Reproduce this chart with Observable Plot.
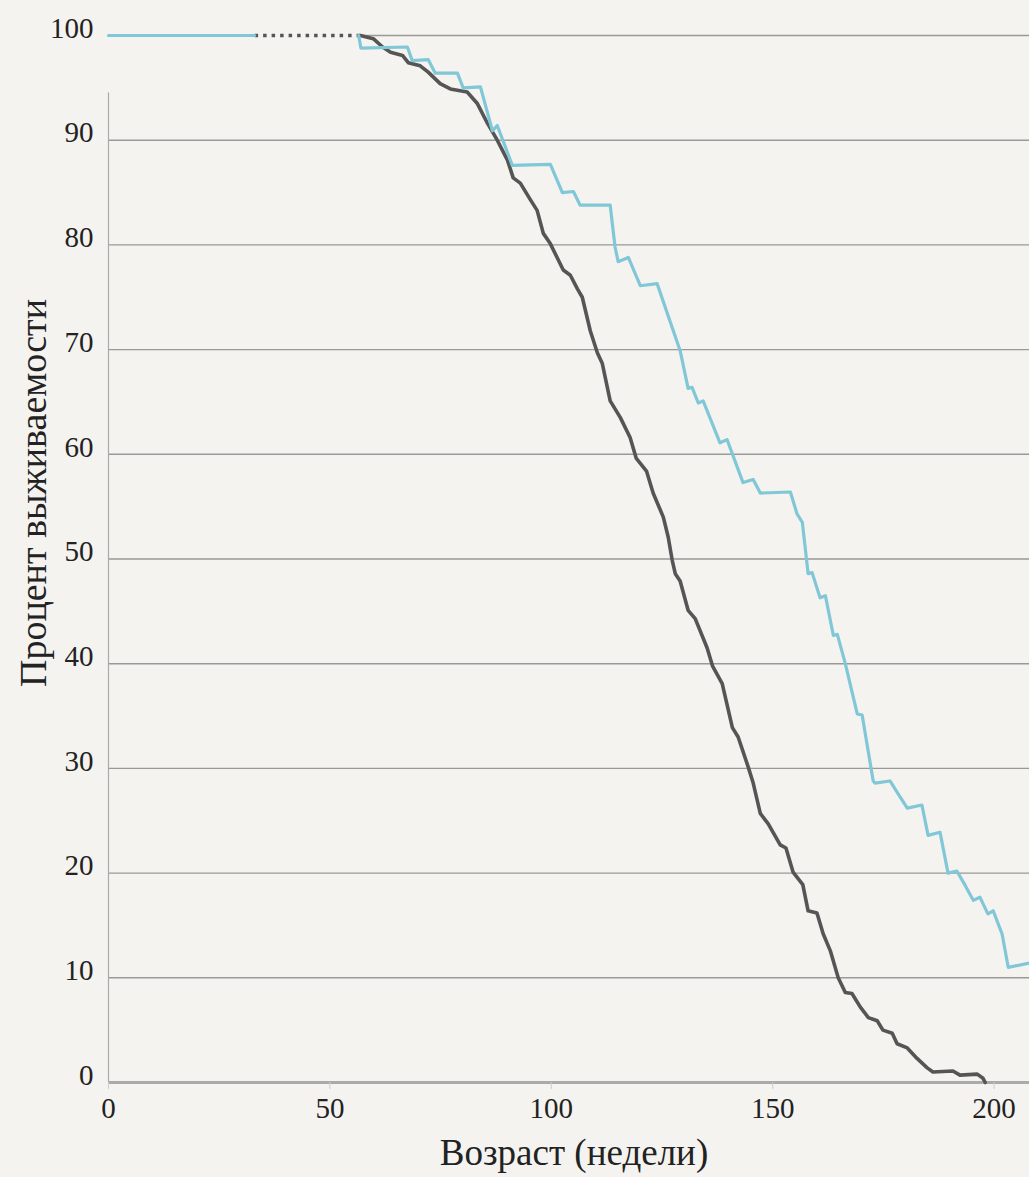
<!DOCTYPE html>
<html><head><meta charset="utf-8">
<script src="https://cdn.jsdelivr.net/npm/d3@7"></script>
<script src="https://cdn.jsdelivr.net/npm/@observablehq/plot@0.6"></script>
<style>
body{margin:0;background:#f5f3ef;}
#chart svg{display:block;background:#f5f3ef;}
#chart svg text{font-family:'Liberation Serif','DejaVu Serif',serif;}
</style>
</head><body><div id="chart"></div>
<script>
// Teal series (null marks a gap in the line)
const tealWeeks = [0,33,null,56.5,57,67.5,68.6,72.2,73.8,78.8,80.1,84.0,86.7,87.8,91.2,99.8,102.5,105,106.5,113.3,114.4,115.1,117.4,120.1,123.9,129.1,130.9,131.8,133.2,134.3,138.1,139.7,143.3,145.6,147.2,154,155.5,156.7,158,158.9,160.7,161.9,163.7,164.6,166.4,169.1,170.2,172.7,173.1,176.5,178.3,180.4,183.7,185.1,187.8,189.6,191.6,193.5,195.3,196.8,198.6,199.8,201.8,203.2,208];
const tealPct   = [100,100,null,100,98.8,98.9,97.6,97.7,96.4,96.4,95.0,95.1,90.9,91.4,87.6,87.7,85.0,85.1,83.8,83.8,79.8,78.4,78.8,76.1,76.3,69.9,66.3,66.4,64.9,65.1,61.1,61.4,57.3,57.6,56.3,56.4,54.3,53.5,48.6,48.7,46.3,46.5,42.7,42.8,40.0,35.2,35.1,28.8,28.6,28.8,27.6,26.2,26.5,23.6,23.9,20.0,20.2,18.8,17.4,17.7,16.1,16.4,14.2,11.0,11.4];

// Dark grey series
const darkWeeks = [56.9,59.8,61.9,63.7,66.4,67.7,70.4,72.2,74.9,77.2,81.0,83.3,85.6,87.8,90.1,91.4,93,95.3,96.8,98.2,99.8,102.7,104.3,105.9,107,108.8,110.4,111.5,113.3,115.6,117.8,119.2,121.5,123,125.3,126.4,127.3,128,129.1,130.9,132.5,135.2,136.4,138.6,140.9,142.2,144.5,145.6,147.2,149,151.7,153,154.6,156.8,158,160,161.4,163,164.8,166.4,167.9,169.8,171.6,173.6,174.9,177,178.1,180.4,182.6,184.9,186.2,190.7,192.3,196.2,197.5,198];
const darkPct   = [100,99.7,98.9,98.4,98.1,97.4,97.1,96.5,95.4,94.9,94.6,93.5,91.6,90.0,88.1,86.4,85.9,84.3,83.3,81.1,80.1,77.6,77.1,75.8,75.0,71.8,69.7,68.7,65.1,63.5,61.6,59.6,58.4,56.3,54.0,52.1,49.9,48.6,47.9,45.1,44.3,41.5,39.8,38.1,33.9,33.0,30.1,28.6,25.7,24.7,22.7,22.4,20.1,18.9,16.4,16.2,14.2,12.6,10.0,8.6,8.5,7.2,6.2,5.9,5.0,4.7,3.7,3.3,2.3,1.4,1.0,1.1,0.7,0.8,0.4,0];

// Dotted connector of the dark series
const dottedWeeks = [33,57];
const dottedPct   = [100,100];

const xTicks = [0,50,100,150,200];
const yTicks = [0,10,20,30,40,50,60,70,80,90,100];
const gridValues = [10,20,30,40,50,60,70,80,90];
const yAxisTop = 94.5;
const xMax = 208;

const tealData = tealWeeks.map((w,i)=>({week:w, pct:tealPct[i]}));
const darkData = darkWeeks.map((w,i)=>({week:w, pct:darkPct[i]}));
const dottedData = dottedWeeks.map((w,i)=>({week:w, pct:dottedPct[i]}));

const font = "Liberation Serif";

const chart = Plot.plot({
  width: 1029,
  height: 1177,
  marginLeft: 108,
  marginRight: 0,
  marginTop: 35,
  marginBottom: 95,
  style: {background: "#f5f3ef", color: "#222"},
  x: {domain: [0, xMax]},
  y: {domain: [0, 100]},
  marks: [
    Plot.ruleY(gridValues, {stroke: "#999", strokeWidth: 1.4}),
    Plot.ruleY([100], {x1: darkWeeks[0], x2: xMax, stroke: "#999", strokeWidth: 1.4}),
    Plot.ruleX([0], {y1: 0, y2: yAxisTop, stroke: "#aaa", strokeWidth: 1.2}),
    Plot.ruleY([0], {stroke: "#aaa", strokeWidth: 3}),
    Plot.axisX({ticks: xTicks, tickSize: 7, tickPadding: 8, stroke: "#ccc", fontSize: 29, fontFamily: font, fill: "#222", label: null, tickFormat: d => String(d)}),
    Plot.axisY({ticks: yTicks, tickSize: 0, tickPadding: 15, fontSize: 29, fontFamily: font, fill: "#222", dy: -7, label: null}),
    Plot.line(dottedData, {x: "week", y: "pct", stroke: "#555", strokeWidth: 3.5, strokeDasharray: "3.5 5", strokeLinecap: "butt"}),
    Plot.line(darkData, {x: "week", y: "pct", stroke: "#555555", strokeWidth: 3.6}),
    Plot.line(tealData, {x: "week", y: "pct", stroke: "#80c7d7", strokeWidth: 3.2}),
    Plot.text(["Процент выживаемости"], {frameAnchor: "left", textAnchor: "middle", rotate: -90, dx: -75, dy: -66, fontSize: 38, fontFamily: font, fill: "#222"}),
    Plot.text(["Возраст (недели)"], {frameAnchor: "bottom", dx: 5, dy: 82, fontSize: 37, fontFamily: font, fill: "#222"})
  ]
});
document.getElementById("chart").appendChild(chart);
</script>
</body></html>
